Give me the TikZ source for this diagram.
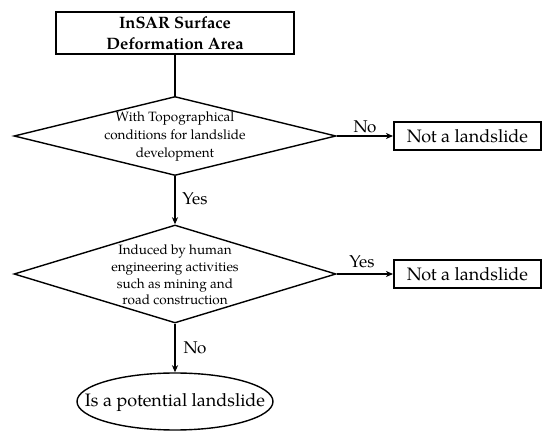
\documentclass[tikz,border=0pt]{standalone}
\usepackage{fontspec}
\setmainfont{TeX Gyre Pagella}
\usetikzlibrary{shapes.geometric,arrows.meta}
\begin{document}
\begin{tikzpicture}[x=1pt,y=-1pt,
  every node/.style={font=\fontsize{18}{22}\selectfont},
  conn/.style={line width=1.4pt,-{Stealth[length=7pt,width=6pt,inset=2pt]}},
  plain/.style={line width=1.4pt},
  startbox/.style={draw,line width=1.4pt,rectangle,minimum width=238pt,minimum height=42pt,inner sep=0pt,align=center,font=\fontsize{16.5}{21}\selectfont\bfseries},
  endbox/.style={draw,line width=2pt,rectangle,minimum width=147pt,minimum height=28.5pt,inner sep=0pt},
  decision/.style={draw,line width=1.4pt,diamond,inner sep=0pt},
  dtext/.style={align=center,inner sep=0pt},
  terminal/.style={draw,line width=1.4pt,ellipse,minimum width=196pt,minimum height=57pt,inner sep=0pt},
  lbl/.style={inner sep=0pt,font=\fontsize{17}{20}\selectfont}]
\useasboundingbox (0,0) rectangle (550,438);
\node[startbox] (top) at (175,33) {InSAR Surface\\Deformation Area};
\node[decision,minimum width=322pt,minimum height=79pt,aspect=4.08] (d1) at (175,136) {};
\node[dtext,font=\fontsize{13.5}{18}\selectfont] (t1) at (175,137) {With Topographical\\conditions for landslide\\development};
\node[decision,minimum width=322pt,minimum height=98pt,aspect=3.29] (d2) at (175,274) {};
\node[dtext,font=\fontsize{13.5}{16.7}\selectfont] (t2) at (175,275) {Induced by human\\engineering activities\\such as mining and\\road construction};
\node[endbox] (n1) at (467.5,136) {Not a landslide};
\node[endbox] (n2) at (467.5,274) {Not a landslide};
\node[terminal] (pot) at (175,401.5) {};
\node[dtext] (pt) at (175,402) {Is a potential landslide};
\draw[plain] (top.south) -- (d1.north);
\draw[conn] (d1.east) -- (n1.west);
\draw[conn] (d1.south) -- (d2.north);
\draw[conn] (d2.east) -- (n2.west);
\draw[conn] (d2.south) -- (pot.north);
\node[lbl] (l1) at (365,127) {No};
\node[lbl] (l2) at (195,199) {Yes};
\node[lbl] (l3) at (362,262) {Yes};
\node[lbl] (l4) at (195,348) {No};
\end{tikzpicture}
\end{document}
